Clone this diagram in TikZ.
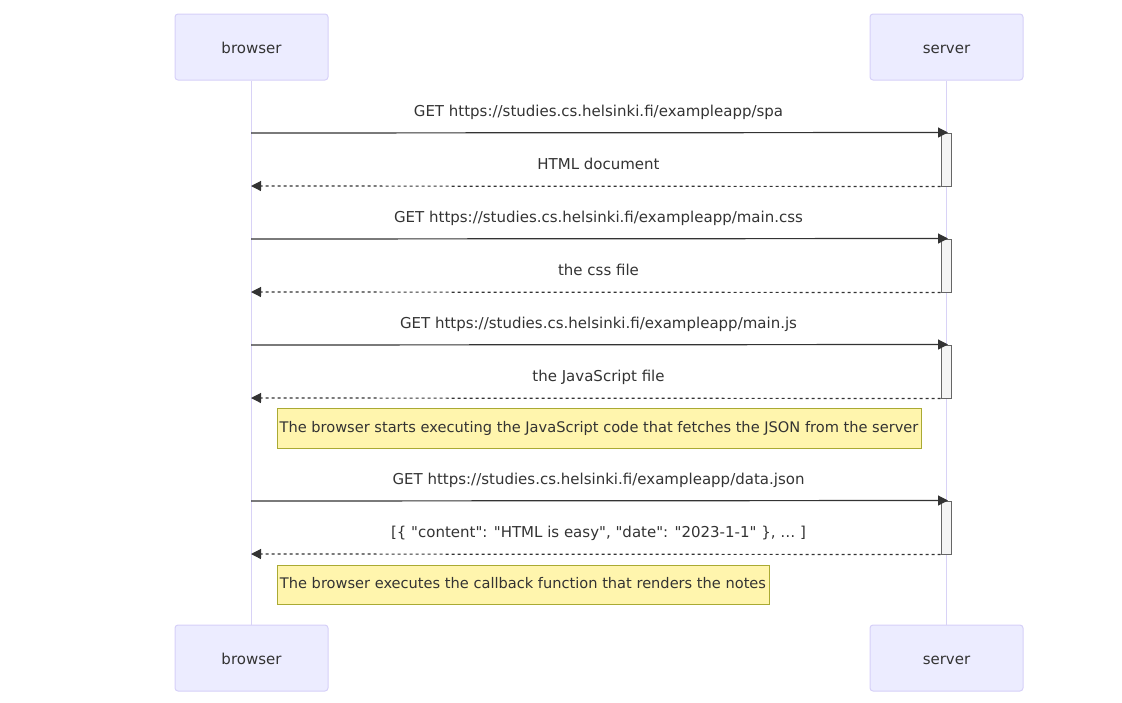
\documentclass[tikz,border=0pt]{standalone}
\usepackage{fontspec}
\setmainfont{DejaVu Sans}[Ligatures=TeXOff]
\usetikzlibrary{arrows.meta}
\definecolor{actorfill}{HTML}{ECECFF}
\definecolor{actorline}{HTML}{D6D0F8}
\definecolor{lifeline}{HTML}{D8D2F6}
\definecolor{ink}{HTML}{333333}
\definecolor{actfill}{HTML}{F4F4F4}
\definecolor{actline}{HTML}{666666}
\definecolor{notefill}{HTML}{FFF5AD}
\definecolor{noteline}{HTML}{AAAA33}
\newcommand\txtsize{\fontsize{15}{18}\selectfont}
\newcommand\notesize{\fontsize{14.6}{18}\selectfont}
\tikzset{
  actor/.style={draw=actorline, fill=actorfill, rounded corners=3pt, line width=1pt,
    minimum width=153pt, minimum height=66pt, inner sep=0pt, text=ink, font=\txtsize,
    text height=13pt, text depth=1pt},
  life/.style={draw=lifeline, line width=1.6pt},
  actbar/.style={draw=actline, fill=actfill, line width=1pt},
  msg/.style={draw=ink, line width=1.2pt, -{Triangle[length=10pt,width=10pt]}},
  reply/.style={msg, dash pattern=on 3pt off 3pt},
  lbl/.style={text=ink, font=\txtsize, inner sep=0pt, text height=11pt, text depth=3pt},
  note/.style={draw=noteline, fill=notefill, line width=1pt, inner sep=0pt, text=ink,
    font=\notesize, text height=11pt, text depth=3pt}
}
\begin{document}
\begin{tikzpicture}[x=1pt,y=-1pt]
\useasboundingbox (0,0) rectangle (1122,702);
% participants
\node[actor] (bt) at (251.5,47) {browser};
\node[actor] (st) at (946.5,47) {server};
\node[actor] (bb) at (251.5,658) {browser};
\node[actor] (sb) at (946.5,658) {server};
\draw[life] (bt.south) -- (bb.north);
\draw[life] (st.south) -- (sb.north);
% activation bars on the server lifeline
\foreach \i/\a/\b in {1/133/186, 2/239/292, 3/345/398, 4/501/554} {
  \node[actbar, minimum width=10pt, minimum height=53pt, inner sep=0pt] (act\i) at (946,{(\a+\b)/2}) {};
}
% endpoints of the messages on the browser lifeline
\foreach \i/\a/\b in {1/133/186, 2/239/292, 3/345/398, 4/501/554} {
  \coordinate (bs\i) at (251,\a);
  \coordinate (br\i) at (251,\b);
}
\draw[msg, shorten >=-2pt] (bs1) -- (act1.north);
\draw[reply] (act1.south west) -- (br1);
\draw[msg, shorten >=-2pt] (bs2) -- (act2.north);
\draw[reply] (act2.south west) -- (br2);
\draw[msg, shorten >=-2pt] (bs3) -- (act3.north);
\draw[reply] (act3.south west) -- (br3);
\draw[msg, shorten >=-2pt] (bs4) -- (act4.north);
\draw[reply] (act4.south west) -- (br4);
% message labels
\node[lbl] (l1) at (598.5,112) {GET https://studies.cs.helsinki.fi/exampleapp/spa};
\node[lbl] (l2) at (598.5,165) {HTML document};
\node[lbl] (l3) at (598.5,218) {GET https://studies.cs.helsinki.fi/exampleapp/main.css};
\node[lbl] (l4) at (598.5,271) {the css file};
\node[lbl] (l5) at (598.5,324) {GET https://studies.cs.helsinki.fi/exampleapp/main.js};
\node[lbl] (l6) at (598.5,377) {the JavaScript file};
\node[lbl] (l7) at (598.5,480) {GET https://studies.cs.helsinki.fi/exampleapp/data.json};
\node[lbl] (l8) at (598.5,533) {[\{ "content": "HTML is easy", "date": "2023-1-1" \}, \ldots\ ]};
% notes
\node[note, minimum width=644pt, minimum height=40pt] (n1) at (599,428)
  {The browser starts executing the JavaScript code that fetches the JSON from the server};
\node[note, minimum width=492pt, minimum height=39pt] (n2) at (523,584.5)
  {The browser executes the callback function that renders the notes};
\end{tikzpicture}
\end{document}
